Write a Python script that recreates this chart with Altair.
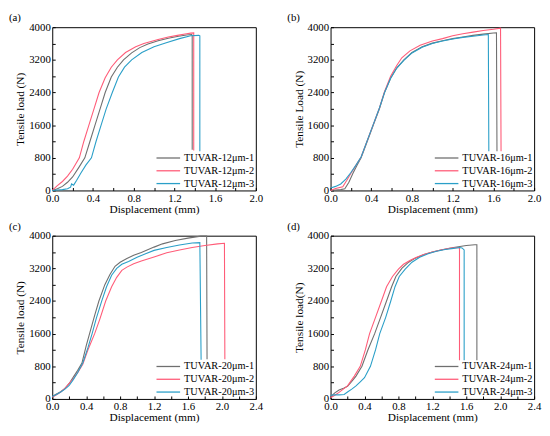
import altair as alt
import pandas as pd

FONT = "Liberation Serif"
COLORS = ["#6f6f6f", "#ff5c78", "#2a9fc8"]
W, H = 207, 166

# ---- panel (a) ----
a_names = ["TUVAR-12μm-1", "TUVAR-12μm-2", "TUVAR-12μm-3"]
a1_x = [0, 0.05, 0.10, 0.15, 0.20, 0.26, 0.32, 0.37, 0.42, 0.47, 0.52, 0.58, 0.64, 0.70, 0.78, 0.86, 0.94, 1.04, 1.14, 1.24, 1.32, 1.37, 1.375, 1.375]
a1_y = [0, 40, 100, 200, 330, 560, 800, 1200, 1600, 2000, 2400, 2780, 3020, 3200, 3370, 3500, 3590, 3670, 3730, 3780, 3810, 3820, 3800, 1000]
a2_x = [0, 0.05, 0.10, 0.15, 0.20, 0.266, 0.31, 0.36, 0.41, 0.46, 0.52, 0.58, 0.64, 0.72, 0.82, 0.90, 1.04, 1.14, 1.23, 1.32, 1.36, 1.39, 1.39]
a2_y = [0, 120, 220, 350, 520, 800, 1200, 1600, 2000, 2400, 2760, 3020, 3200, 3380, 3520, 3600, 3700, 3760, 3800, 3840, 3855, 3860, 980]
a3_x = [0, 0.05, 0.10, 0.15, 0.18, 0.19, 0.21, 0.24, 0.28, 0.33, 0.385, 0.43, 0.48, 0.53, 0.59, 0.65, 0.71, 0.78, 0.88, 1.0, 1.12, 1.25, 1.36, 1.44, 1.45, 1.45]
a3_y = [0, 10, 20, 40, 80, 160, 130, 250, 420, 620, 800, 1200, 1600, 2000, 2400, 2780, 3020, 3200, 3380, 3520, 3620, 3720, 3790, 3800, 3790, 960]

# ---- panel (b) ----
b_names = ["TUVAR-16μm-1", "TUVAR-16μm-2", "TUVAR-16μm-3"]
b1_x = [0, 0.05, 0.10, 0.14, 0.18, 0.22, 0.26, 0.30, 0.36, 0.42, 0.48, 0.53, 0.59, 0.65, 0.72, 0.80, 0.90, 1.0, 1.1, 1.2, 1.3, 1.4, 1.5, 1.6, 1.63, 1.635]
b1_y = [0, 10, 20, 40, 200, 420, 620, 800, 1200, 1600, 2000, 2400, 2750, 3000, 3200, 3380, 3520, 3610, 3670, 3720, 3760, 3800, 3830, 3860, 3865, 960]
b2_x = [0, 0.05, 0.12, 0.16, 0.20, 0.25, 0.30, 0.36, 0.42, 0.48, 0.53, 0.59, 0.65, 0.70, 0.78, 0.88, 1.0, 1.1, 1.2, 1.3, 1.4, 1.5, 1.6, 1.67, 1.675]
b2_y = [0, 50, 90, 250, 420, 620, 820, 1220, 1620, 2020, 2420, 2800, 3060, 3250, 3420, 3560, 3660, 3720, 3790, 3840, 3880, 3920, 3950, 3975, 960]
b3_x = [0, 0.05, 0.10, 0.15, 0.20, 0.25, 0.30, 0.36, 0.42, 0.48, 0.53, 0.59, 0.65, 0.72, 0.80, 0.90, 1.0, 1.1, 1.2, 1.3, 1.4, 1.5, 1.55, 1.555]
b3_y = [60, 100, 160, 280, 440, 620, 820, 1220, 1620, 2020, 2400, 2750, 3000, 3190, 3370, 3510, 3600, 3660, 3710, 3750, 3780, 3810, 3820, 960]

# ---- panel (c) ----
c_names = ["TUVAR-20μm-1", "TUVAR-20μm-2", "TUVAR-20μm-3"]
c1_x = [0, 0.05, 0.10, 0.15, 0.20, 0.25, 0.30, 0.35, 0.40, 0.44, 0.50, 0.55, 0.62, 0.68, 0.74, 0.80, 0.88, 0.96, 1.05, 1.2, 1.3, 1.45, 1.6, 1.75, 1.82, 1.825]
c1_y = [60, 120, 180, 260, 380, 540, 700, 880, 1300, 1600, 2050, 2400, 2800, 3050, 3250, 3350, 3440, 3520, 3590, 3720, 3800, 3880, 3940, 3990, 3990, 970]
c2_x = [0, 0.05, 0.10, 0.15, 0.20, 0.25, 0.30, 0.36, 0.42, 0.50, 0.56, 0.63, 0.70, 0.76, 0.82, 0.88, 0.96, 1.05, 1.2, 1.35, 1.5, 1.65, 1.8, 1.95, 2.03, 2.035]
c2_y = [40, 100, 170, 260, 380, 500, 640, 850, 1200, 1600, 1950, 2400, 2750, 2980, 3150, 3230, 3310, 3380, 3480, 3580, 3650, 3710, 3760, 3800, 3815, 970]
c3_x = [0, 0.05, 0.10, 0.15, 0.20, 0.25, 0.30, 0.36, 0.42, 0.47, 0.52, 0.58, 0.64, 0.70, 0.76, 0.82, 0.90, 1.0, 1.1, 1.2, 1.35, 1.5, 1.65, 1.74, 1.755]
c3_y = [60, 110, 170, 240, 330, 480, 650, 880, 1250, 1600, 1980, 2380, 2750, 3030, 3200, 3300, 3370, 3470, 3560, 3640, 3710, 3770, 3820, 3830, 960]

# ---- panel (d) ----
d_names = ["TUVAR-24μm-1", "TUVAR-24μm-2", "TUVAR-24μm-3"]
d1_x = [0, 0.05, 0.10, 0.16, 0.20, 0.25, 0.30, 0.37, 0.44, 0.52, 0.59, 0.66, 0.72, 0.77, 0.84, 0.92, 1.0, 1.1, 1.2, 1.3, 1.45, 1.6, 1.7, 1.725, 1.725]
d1_y = [50, 150, 220, 270, 310, 430, 560, 800, 1200, 1600, 2000, 2400, 2750, 3000, 3200, 3350, 3450, 3540, 3600, 3650, 3710, 3760, 3780, 3780, 950]
d2_x = [0, 0.05, 0.10, 0.15, 0.20, 0.28, 0.35, 0.41, 0.46, 0.53, 0.60, 0.66, 0.73, 0.80, 0.86, 0.94, 1.0, 1.1, 1.2, 1.3, 1.4, 1.49, 1.52, 1.52]
d2_y = [30, 90, 160, 240, 320, 560, 800, 1200, 1600, 2000, 2400, 2750, 3000, 3180, 3300, 3400, 3460, 3540, 3600, 3650, 3690, 3710, 3700, 950]
d3_x = [0, 0.05, 0.10, 0.16, 0.20, 0.25, 0.30, 0.35, 0.40, 0.47, 0.53, 0.58, 0.65, 0.71, 0.76, 0.81, 0.88, 0.96, 1.05, 1.15, 1.25, 1.35, 1.45, 1.52, 1.55, 1.575, 1.575]
d3_y = [90, 100, 100, 110, 170, 240, 320, 420, 520, 800, 1200, 1600, 2000, 2400, 2750, 3000, 3180, 3350, 3470, 3560, 3620, 3660, 3690, 3710, 3700, 3650, 950]

# tick positions (every tick is drawn, labels only on major ones)
y_ticks = [0, 400, 800, 1200, 1600, 2000, 2400, 2800, 3200, 3600, 4000]
x_ticks_20 = [0.0, 0.2, 0.4, 0.6, 0.8, 1.0, 1.2, 1.4, 1.6, 1.8, 2.0]
x_ticks_24 = [0.0, 0.2, 0.4, 0.6, 0.8, 1.0, 1.2, 1.4, 1.6, 1.8, 2.0, 2.2, 2.4]


def make_df(names, series):
    rows = []
    for name, (xs, ys) in zip(names, series):
        for i, (xv, yv) in enumerate(zip(xs, ys)):
            rows.append({"x": xv, "y": yv, "series": name, "i": i})
    return pd.DataFrame(rows)


def panel(names, series, xmax, xticks, ytitle, label):
    df = make_df(names, series)
    lines = alt.Chart(df).mark_line(strokeWidth=1.1).encode(
        x=alt.X("x:Q", scale=alt.Scale(domain=[0, xmax], nice=False),
                axis=alt.Axis(values=xticks, title="Displacement (mm)",
                              labelExpr="round(datum.value*10) % 4 == 0 ? format(datum.value, '.1f') : ''",
                              ticks=True, tickSize=alt.ExprRef("-3"), tickColor="black",
                              domain=False, grid=False, labelFlush=False,
                              labelPadding=5, titlePadding=0)),
        y=alt.Y("y:Q", scale=alt.Scale(domain=[0, 4000], nice=False),
                axis=alt.Axis(values=y_ticks, title=ytitle,
                              labelExpr="datum.value % 800 == 0 ? format(datum.value, 'd') : ''",
                              ticks=True, tickSize=alt.ExprRef("-3"), tickColor="black",
                              domain=False, grid=False, labelFlush=False,
                              labelPadding=5, titlePadding=3)),
        color=alt.Color("series:N", scale=alt.Scale(domain=names, range=COLORS),
                        legend=alt.Legend(title=None, orient="bottom-right", offset=0,
                                          symbolType="M-1,0L3,0", symbolSize=144,
                                          symbolStrokeWidth=1.3, symbolFillColor="transparent",
                                          labelFont=FONT,
                                          labelFontSize=10.5, labelColor="black",
                                          labelOffset=15, rowPadding=-1, padding=1)),
        order="i:Q",
    )
    return lines.properties(
        width=W, height=H,
        title=alt.TitleParams(label, anchor="start", frame="group", dx=-44, offset=-2,
                              font=FONT, fontSize=11, fontWeight="normal", color="black"),
    )


pa = panel(a_names, [(a1_x, a1_y), (a2_x, a2_y), (a3_x, a3_y)], 2.0, x_ticks_20, "Tensile load (N)", "(a)")
pb = panel(b_names, [(b1_x, b1_y), (b2_x, b2_y), (b3_x, b3_y)], 2.0, x_ticks_20, "Tensile Load (N)", "(b)")
pc = panel(c_names, [(c1_x, c1_y), (c2_x, c2_y), (c3_x, c3_y)], 2.4, x_ticks_24, "Tensile load (N)", "(c)")
pd_ = panel(d_names, [(d1_x, d1_y), (d2_x, d2_y), (d3_x, d3_y)], 2.4, x_ticks_24, "Tensile load(N)", "(d)")

row1 = alt.hconcat(pa, pb, spacing=23).resolve_scale(color="independent", x="independent", y="independent")
row2 = alt.hconcat(pc, pd_, spacing=23).resolve_scale(color="independent", x="independent", y="independent")

chart = alt.vconcat(row1, row2, spacing=5).resolve_scale(
    color="independent", x="independent", y="independent"
).configure_view(
    stroke="black", strokeWidth=1
).configure_axis(
    labelFont=FONT, labelFontSize=11, labelColor="black",
    titleFont=FONT, titleFontSize=11.5, titleFontWeight="normal", titleColor="black",
).properties(padding={"left": 0, "top": 0, "right": 0, "bottom": 0}, background="white")

chart.save("out.html", embed_options={"renderer": "svg", "actions": False})
